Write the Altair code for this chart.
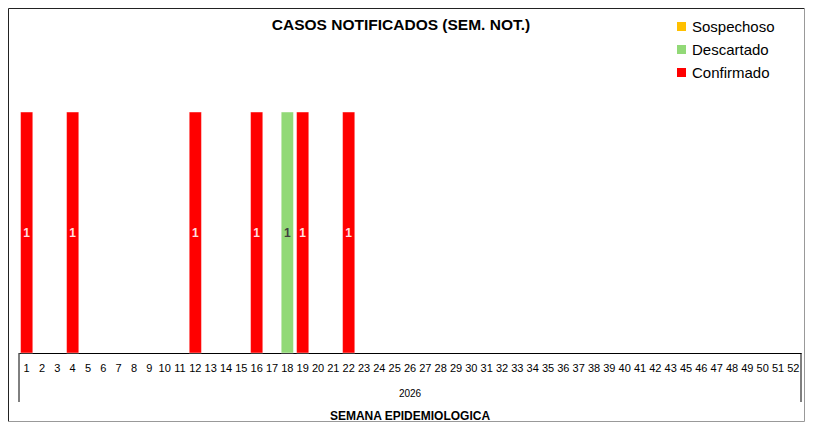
import altair as alt
import pandas as pd

semanas = ["1","2","3","4","5","6","7","8","9","10","11","12","13","14","15","16","17",
           "18","19","20","21","22","23","24","25","26","27","28","29","30","31","32","33",
           "34","35","36","37","38","39","40","41","42","43","45","46","47","48","49","50",
           "51","52"]
semanas_casos = ["1", "4", "12", "16", "18", "19", "22"]
estados = ["Confirmado", "Confirmado", "Confirmado", "Confirmado", "Descartado", "Confirmado", "Confirmado"]
casos = [1, 1, 1, 1, 1, 1, 1]

leyenda = ["Sospechoso", "Descartado", "Confirmado"]
colores = ["#FFC000", "#92D977", "#FF0000"]

titulo = "CASOS NOTIFICADOS (SEM. NOT.)"
anio = "2026"
eje_titulo = "SEMANA EPIDEMIOLOGICA"

df = pd.DataFrame({"semana": semanas_casos, "estado": estados, "casos": casos})

W, H = 782, 241
FONT = "Liberation Sans"

x_enc = alt.X("semana:N", sort=semanas,
              scale=alt.Scale(domain=semanas, paddingInner=0.2, paddingOuter=0.1),
              axis=alt.Axis(title=None, labelAngle=0, ticks=False, domain=True,
                            domainColor="#000000", domainWidth=1, labelPadding=9,
                            labelFontSize=11, labelColor="#000000", labelFont=FONT,
                            labelOverlap=False, grid=False))

bars = alt.Chart(df).mark_bar(stroke="white", strokeOpacity=0.45, strokeWidth=1).encode(
    x=x_enc,
    y=alt.Y("casos:Q", scale=alt.Scale(domain=[0, 1]), axis=None),
    color=alt.Color("estado:N", scale=alt.Scale(domain=leyenda, range=colores),
                    legend=alt.Legend(title=None, orient="none", legendX=655, legendY=-93,
                                      symbolType="square", symbolSize=81, symbolStrokeWidth=0,
                                      labelFontSize=15, labelFont=FONT, labelColor="#000000",
                                      rowPadding=7, padding=0, labelOffset=3)),
)

labels = alt.Chart(df).transform_calculate(mid="datum.casos / 2").mark_text(
    fontSize=12, fontWeight="bold", font=FONT, baseline="middle"
).encode(
    x=alt.X("semana:N", sort=semanas),
    y=alt.Y("mid:Q"),
    text=alt.Text("casos:Q"),
    color=alt.condition(alt.datum.estado == "Descartado", alt.value("#404040"), alt.value("#FFE0E0")),
)

frame_df = pd.DataFrame({"k": [0]})
top_rule = alt.Chart(frame_df).mark_rule(color="#222222", strokeWidth=1).encode(
    x=alt.value(-10.5), x2=alt.value(785.5), y=alt.value(-103.5))
left_frame = alt.Chart(frame_df).mark_rule(color="#222222", strokeWidth=1).encode(
    x=alt.value(-10.5), y=alt.value(-103.5), y2=alt.value(309.5))
bottom_rule = alt.Chart(frame_df).mark_rule(color="#999999", strokeWidth=1).encode(
    x=alt.value(-10.5), x2=alt.value(785.5), y=alt.value(309.5))
right_frame = alt.Chart(frame_df).mark_rule(color="#999999", strokeWidth=1).encode(
    x=alt.value(785.5), y=alt.value(-103.5), y2=alt.value(309.5))

left_rule = alt.Chart(frame_df).mark_rule(color="#000000", strokeWidth=1).encode(
    x=alt.value(0), y=alt.value(H), y2=alt.value(290))
right_rule = alt.Chart(frame_df).mark_rule(color="#000000", strokeWidth=1).encode(
    x=alt.value(W), y=alt.value(H), y2=alt.value(290))

title_txt = alt.Chart(frame_df).mark_text(
    fontSize=15.5, fontWeight="bold", font=FONT, color="#000000", align="center", baseline="middle"
).encode(x=alt.value(382), y=alt.value(-87), text=alt.value(titulo))

anio_txt = alt.Chart(frame_df).mark_text(
    fontSize=10, font=FONT, color="#000000", align="center", baseline="middle"
).encode(x=alt.value(391), y=alt.value(282), text=alt.value(anio))

eje_txt = alt.Chart(frame_df).mark_text(
    fontSize=12, fontWeight="bold", font=FONT, color="#000000", align="center", baseline="middle"
).encode(x=alt.value(391), y=alt.value(304), text=alt.value(eje_titulo))

chart = alt.layer(top_rule, left_frame, bottom_rule, right_frame, bars, labels,
                  left_rule, right_rule, title_txt, anio_txt, eje_txt).properties(
    width=W, height=H,
    background="white",
    autosize=alt.AutoSizeParams(type="none"),
    padding={"left": 11, "top": 104, "right": 5, "bottom": 69},
).configure_view(stroke=None)

chart.save("out.html", embed_options={"renderer": "svg", "actions": False})
